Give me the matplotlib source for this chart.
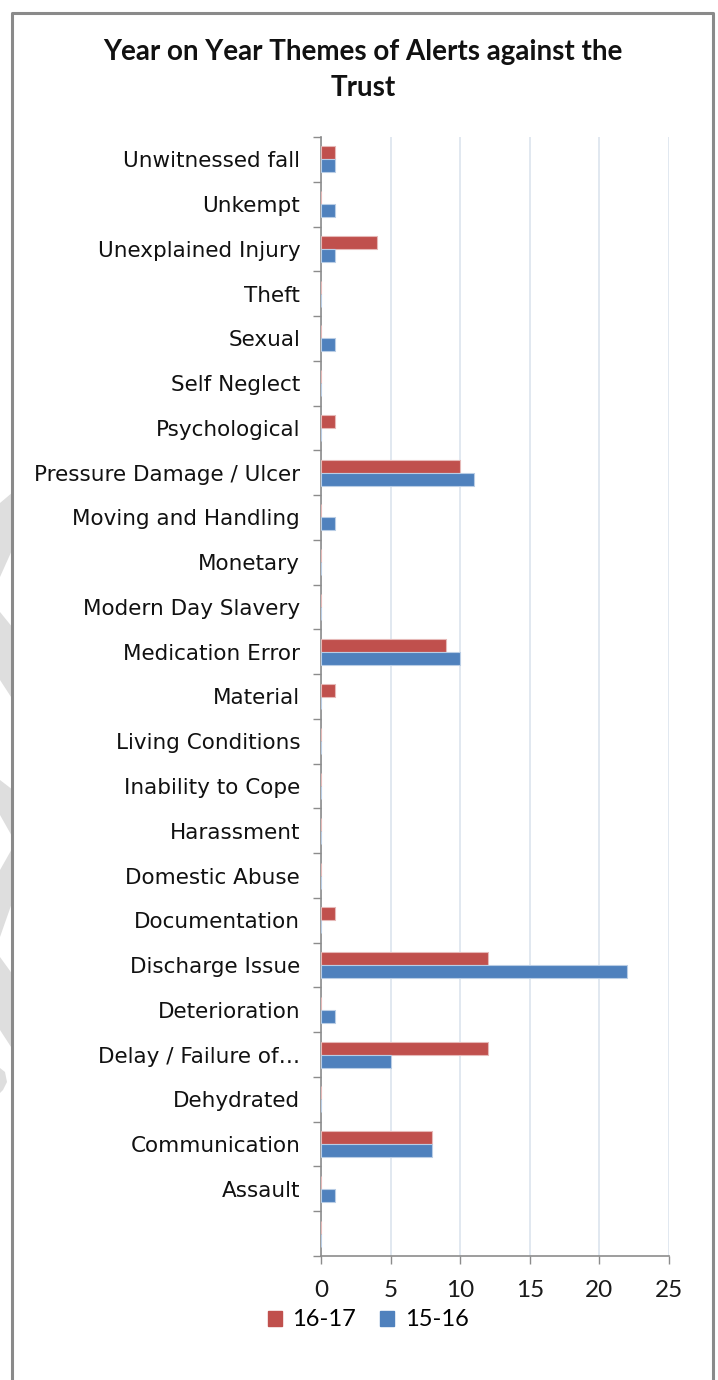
import matplotlib
matplotlib.use("Agg")
import matplotlib.pyplot as plt
import numpy as np
from matplotlib.patches import Polygon, Rectangle
from matplotlib.lines import Line2D

# Alert themes, listed bottom to top (first entry is an empty row)
categories = [
    "", "Assault", "Communication", "Dehydrated", "Delay / Failure of\u2026",
    "Deterioration", "Discharge Issue", "Documentation", "Domestic Abuse",
    "Harassment", "Inability to Cope", "Living Conditions", "Material",
    "Medication Error", "Modern Day Slavery", "Monetary", "Moving and Handling",
    "Pressure Damage / Ulcer", "Psychological", "Self Neglect", "Sexual",
    "Theft", "Unexplained Injury", "Unkempt", "Unwitnessed fall",
]
alerts_16_17 = [0, 0, 8, 0, 12, 0, 12, 1, 0, 0, 0, 0, 1, 9, 0, 0, 0, 10, 1, 0, 0, 0, 4, 0, 1]
alerts_15_16 = [0, 1, 8, 0, 5, 1, 22, 0, 0, 0, 0, 0, 0, 10, 0, 0, 1, 11, 0, 0, 1, 0, 1, 1, 1]
series_names = ["16-17", "15-16"]
x_ticks = [0, 5, 10, 15, 20, 25]

RED = "#C0504D"
BLUE = "#4F81BD"
AXIS_GREY = "#8C8C8C"
GRID = "#DCE4EE"

W, H = 718, 1380
fig = plt.figure(figsize=(W / 100, H / 100), dpi=100)
fig.patch.set_facecolor("white")

def px(x, y):
    return x / W, 1 - y / H

# light watermark fragments along the left margin
shapes = [
    [(0, 503), (13, 492), (13, 548), (0, 577)],
    [(0, 612), (13, 628), (13, 700), (0, 680)],
    [(0, 780), (13, 790), (13, 838), (0, 815)],
    [(0, 870), (13, 847), (13, 900), (0, 937)],
    [(0, 957), (13, 975), (13, 1050), (0, 1030)],
    [(0, 1068), (5, 1072), (7, 1082), (3, 1090), (0, 1093)],
]
for s in shapes:
    fig.add_artist(Polygon([px(a, b) for a, b in s], closed=True,
                           transform=fig.transFigure, facecolor="#DEDEDE",
                           edgecolor="none", lw=0, zorder=0))

# white chart area and its frame (left, top, right edges)
fig.add_artist(Rectangle(px(13, 1385), (712 - 13) / W, (1385 - 13) / H,
                         transform=fig.transFigure, facecolor="white",
                         edgecolor="none", zorder=0.5))
frame_x = [12, 12, 713, 713]
frame_y = [1385, 13, 13, 1385]
fig.add_artist(Line2D([x / W for x in frame_x], [1 - y / H for y in frame_y],
                      transform=fig.transFigure, color="#8A8A8A", lw=2.2, zorder=5))

ax = fig.add_axes([321 / W, 1 - 1256 / H, (669 - 321) / W, (1256 - 137) / H])
ax.set_facecolor("white")
ax.set_zorder(2)

y = np.arange(len(categories))
h = 0.29
ax.barh(y + h / 2, alerts_16_17, height=h, color=RED, edgecolor="#E6B9B8",
        linewidth=0.8, label=series_names[0], zorder=3)
ax.barh(y - h / 2, alerts_15_16, height=h, color=BLUE, edgecolor="#B9CDE5",
        linewidth=0.8, label=series_names[1], zorder=3)

ax.set_xlim(0, 25)
ax.set_ylim(-0.5, len(categories) - 0.5)
ax.set_xticks(x_ticks)
ax.set_xticklabels([str(v) for v in x_ticks], family="Lato", fontsize=17.5,
                   color="#1A1A1A")
ax.tick_params(axis="x", direction="out", length=6, width=1, color=AXIS_GREY,
               pad=11)

ax.set_yticks(y)
ax.set_yticklabels(categories, family="DejaVu Sans", fontsize=15.5, color="#111111")
ax.set_yticks(np.arange(-0.5, len(categories), 1.0), minor=True)
ax.tick_params(axis="y", which="major", length=0, pad=15)
ax.tick_params(axis="y", which="minor", direction="out", length=6, width=1,
               color=AXIS_GREY)

ax.grid(axis="x", color=GRID, lw=1.2, zorder=0)
ax.set_axisbelow(True)
for side in ("top", "right"):
    ax.spines[side].set_visible(False)
for side in ("left", "bottom"):
    ax.spines[side].set_color(AXIS_GREY)
    ax.spines[side].set_linewidth(1.2)

fig.text(363 / W, 1 - 70 / H, "Year on Year Themes of Alerts against the\nTrust",
         ha="center", va="center", family="Lato", fontweight="bold",
         fontsize=20, linespacing=1.5, color="#111111", zorder=6)

handles = [plt.Rectangle((0, 0), 1, 1, color=RED),
           plt.Rectangle((0, 0), 1, 1, color=BLUE)]
leg = fig.legend(handles, series_names, loc="center", bbox_to_anchor=px(368, 1320),
                 ncol=2, frameon=False, prop={"family": "Lato", "size": 17},
                 handlelength=0.6, handleheight=0.6, handletextpad=0.45,
                 columnspacing=1.0)
leg.set_zorder(6)

fig.savefig("out.png", dpi=100, facecolor="white")
